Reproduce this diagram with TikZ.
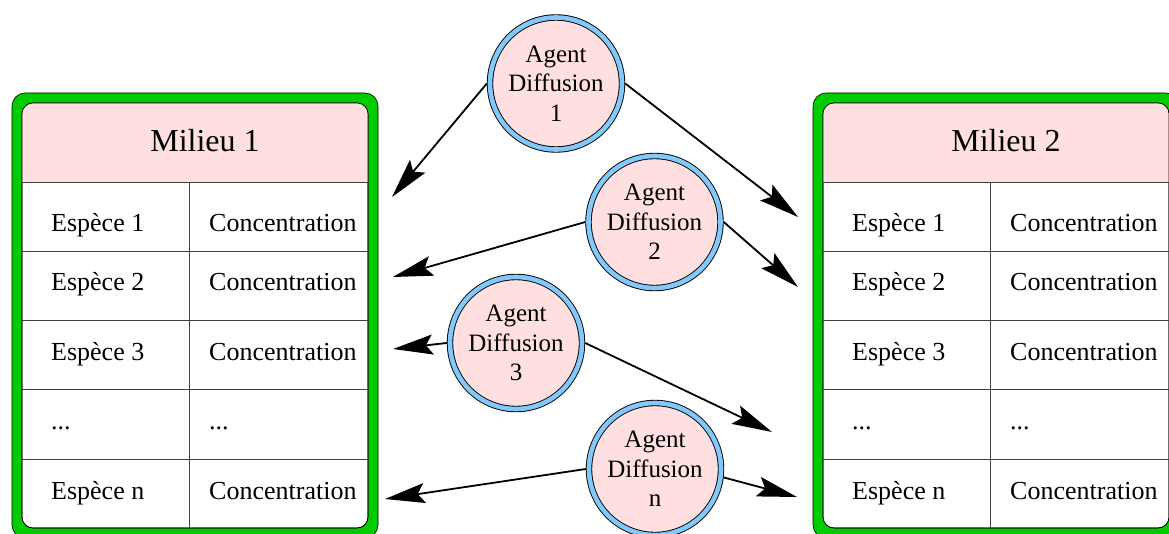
\documentclass[tikz,border=0pt]{standalone}
\usepackage{fontspec}
\setmainfont{Liberation Serif}
\usetikzlibrary{arrows.meta}
\definecolor{milieugreen}{RGB}{0,204,0}
\definecolor{headpink}{RGB}{255,223,223}
\definecolor{ringblue}{RGB}{130,200,250}

\begin{document}
\begin{tikzpicture}[x=1pt,y=-1pt,
  frame/.style={draw=black, line width=0.6pt, fill=milieugreen, rounded corners=13pt},
  panel/.style={draw=black, line width=0.6pt, rounded corners=11pt},
  grid/.style={draw=black!75, line width=0.7pt},
  cell/.style={anchor=base west, inner sep=0pt, font=\fontsize{26}{30}\selectfont},
  title/.style={anchor=base, inner sep=0pt, font=\fontsize{32}{36}\selectfont},
  agent/.style={circle, minimum size=132pt, inner sep=0pt, fill=headpink,
    draw=black, line width=0.9pt, double=ringblue, double distance=4.6pt,
    outer sep=3.2pt, align=center, font=\fontsize{25}{29.5}\selectfont},
  flow/.style={line width=1.8pt, -{Stealth[length=40pt,width=20pt,inset=7pt]}}
]
\useasboundingbox (0,0) rectangle (1169,534);
\clip (0,0) rectangle (1169,534);

% the two media, each a framed table of species and concentrations
\foreach \dx/\m/\k in {0/m1/1, 801/m2/2} {
  \begin{scope}[xshift=\dx pt]
    \draw[frame] (12,93) rectangle (378,538);
    \draw[panel, fill=white] (22,103) rectangle (368,528);
    \begin{scope}
      \clip[rounded corners=11pt] (22,103) rectangle (368,528);
      \fill[headpink] (22,103) rectangle (368,182);
    \end{scope}
    \draw[panel] (22,103) rectangle (368,528);
    \foreach \yy in {182,251.5,320.5,389.5,459}
      \draw[grid] (22,\yy) -- (368,\yy);
    \draw[grid] (189,182) -- (189,528);
    \node[title] (\m-title) at (205,152) {Milieu \k};
    \node[cell] (\m-s1) at (51,232) {Espèce 1};
    \node[cell] (\m-c1) at (209,232) {Concentration};
    \node[cell] (\m-s2) at (51,291) {Espèce 2};
    \node[cell] (\m-c2) at (209,291) {Concentration};
    \node[cell] (\m-s3) at (51,360) {Espèce 3};
    \node[cell] (\m-c3) at (209,360) {Concentration};
    \node[cell] (\m-s4) at (51,429) {...};
    \node[cell] (\m-c4) at (209,429) {...};
    \node[cell] (\m-s5) at (51,499) {Espèce n};
    \node[cell] (\m-c5) at (209,499) {Concentration};
  \end{scope}
}

% diffusion agents
\node[agent] (a1) at (556,83.5) {Agent\\Diffusion\\1};
\node[agent] (a2) at (654.5,222) {Agent\\Diffusion\\2};
\node[agent] (a3) at (516,343) {Agent\\Diffusion\\3};
\node[agent] (an) at (655,469) {Agent\\Diffusion\\n};

% arrow ends beside the media
\coordinate (t1l) at (392,197);
\coordinate (t1r) at (798,217);
\coordinate (t2l) at (393,277);
\coordinate (t2r) at (798,287);
\coordinate (t3l) at (393,349);
\coordinate (t3r) at (772,432);
\coordinate (tnl) at (385,499);
\coordinate (tnr) at (797,497);

\draw[flow] (a1.west) -- (t1l);
\draw[flow] (a1.east) -- (t1r);
\draw[flow] (a2.west) -- (t2l);
\draw[flow] (a2.east) -- (t2r);
\draw[flow] (a3.west) -- (t3l);
\draw[flow] (a3.east) -- (t3r);
\draw[flow] (an.west) -- (tnl);
\draw[flow] (an.-7) -- (tnr);
\end{tikzpicture}
\end{document}
